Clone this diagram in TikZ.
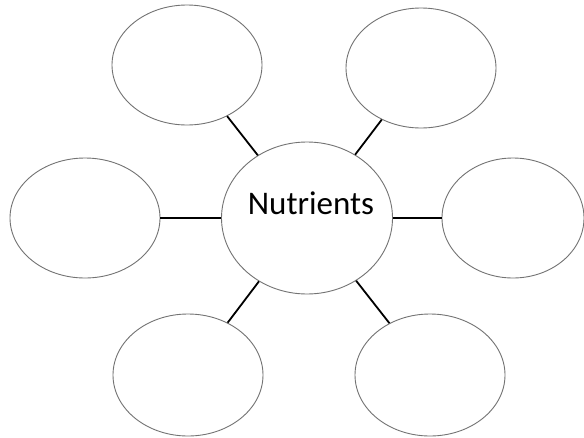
\documentclass[tikz,border=0pt]{standalone}
\usepackage{fontspec}
\setmainfont{Carlito}
\usetikzlibrary{shapes.geometric}
\begin{document}
\begin{tikzpicture}[x=1pt,y=-1pt,
  bubble/.style={ellipse,draw=black!55,line width=0.9pt,fill=white,inner sep=0pt,minimum width=150pt,minimum height=120pt},
  hub/.style={ellipse,draw=black!55,line width=0.9pt,fill=white,inner sep=0pt,minimum width=171pt,minimum height=152pt},
  link/.style={draw=black,line width=1.8pt}]
\useasboundingbox[fill=white] (0,0) rectangle (584,437);
\node[hub] (c) at (307,218) {};
\node[bubble] (tl) at (187,65) {};
\node[bubble] (tr) at (421,68) {};
\node[bubble] (l) at (85,218) {};
\node[bubble,minimum width=142pt] (r) at (513,218) {};
\node[bubble,minimum height=122pt] (bl) at (188,375) {};
\node[bubble,minimum height=122pt] (br) at (430,375) {};
\node[font=\fontsize{33}{36}\selectfont] (t) at (311,203) {Nutrients};
\draw[link] (c) -- (tl);
\draw[link] (c) -- (tr);
\draw[link] (c.west) -- (l.east);
\draw[link] (c.east) -- (r.west);
\draw[link] (c) -- (bl);
\draw[link] (c) -- (br);
\end{tikzpicture}
\end{document}
